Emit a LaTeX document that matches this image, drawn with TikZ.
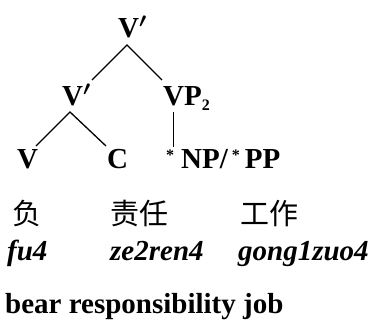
\documentclass[tikz,border=0pt]{standalone}
\usepackage{fontspec}
\setmainfont{Liberation Serif}
\newfontfamily\cjk{Noto Sans CJK SC}
\usetikzlibrary{calc}
\newcommand{\smallstar}{\raisebox{8pt}{\fontsize{16}{16}\selectfont *}}
\begin{document}
\begin{tikzpicture}[x=1pt,y=-1pt,
  lab/.style={inner sep=0pt, anchor=base west, font=\fontsize{29}{30}\selectfont\bfseries\boldmath},
  han/.style={inner sep=0pt, anchor=base west, font=\fontsize{29}{30}\selectfont\cjk},
  pin/.style={inner sep=0pt, anchor=base west, font=\fontsize{29}{30}\selectfont\bfseries\itshape},
  branch/.style={line width=1.3pt}]
\useasboundingbox (0,0) rectangle (373,322);
% tree labels
\node[lab] (top) at (118,37) {V$'$};
\node[lab] (mid) at (62,105) {V$'$};
\node[lab] (vp) at (163,105) {VP\raisebox{-5pt}{\fontsize{16}{16}\selectfont 2}};
\node[lab] (v) at (17,168) {V};
\node[lab] (c) at (107,168) {C};
\node[lab] (np) at (166,168) {\smallstar\hspace{7pt}NP/\hspace{4pt}\smallstar\hspace{5pt}PP};
% Chinese words
\node[han] (h1) at (12,224) {负};
\node[han] (h2) at (110,224) {责任};
\node[han] (h3) at (240,224) {工作};
% pinyin
\node[pin] (p1) at (7,260) {fu4};
\node[pin] (p2) at (110,260) {ze2ren4};
\node[pin] (p3) at (238,260) {gong1zuo4};
% gloss
\node[lab] (g) at (5,313) {bear responsibility job};
% branches
\draw[branch] ($(mid.base west)+(30,-25)$) -- ($(top.base west)+(9,8)$) -- ($(vp.base west)+(-1,-25)$);
\draw[branch] ($(v.base west)+(19,-22)$) -- ($(mid.base west)+(8,7)$) -- ($(c.base west)+(-1,-22)$);
\draw[line width=1pt] ($(vp.base west)+(10,7)$) -- ($(np.base west)+(7,-21)$);
\end{tikzpicture}
\end{document}
